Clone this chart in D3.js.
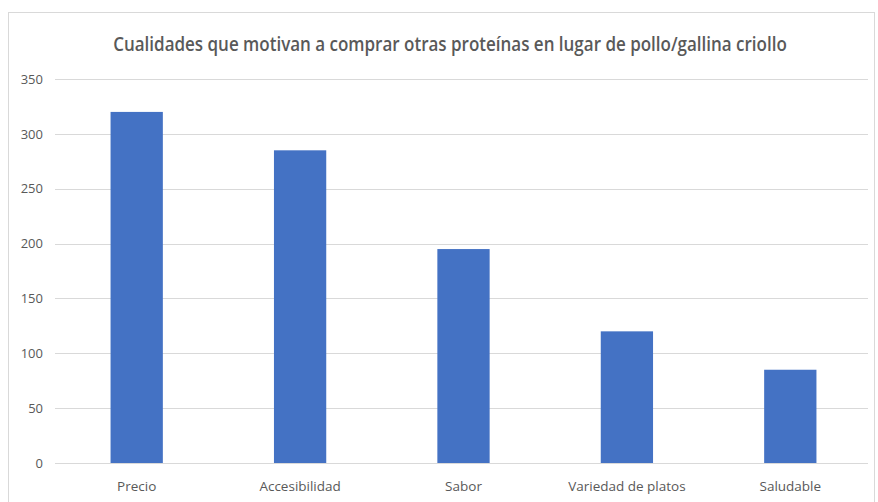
<!DOCTYPE html>
<html><head><meta charset="utf-8">
<script src="https://cdn.jsdelivr.net/npm/d3@7"></script>
<style>body{margin:0;background:#fff}svg{display:block}</style>
</head><body>
<svg id="c" width="878" height="502"></svg>
<script>
const categories = ["Precio", "Accesibilidad", "Sabor", "Variedad de platos", "Saludable"];
const values = [320, 285, 195, 120, 85];
const yTicks = [0, 50, 100, 150, 200, 250, 300, 350];
const title = "Cualidades que motivan a comprar otras proteínas en lugar de pollo/gallina criollo";

const svg = d3.select("#c");
const font = "'Open Sans', 'DejaVu Sans', sans-serif";
svg.append("rect").attr("x", 8.5).attr("y", 12.5).attr("width", 866).attr("height", 495)
  .attr("fill", "#fff").attr("stroke", "#d9d9d9");

const x = d3.scaleBand().domain(categories).range([55, 872]).paddingInner(0.68).paddingOuter(0.34);
const y = d3.scaleLinear().domain([0, 350]).range([463, 79]);

const g = svg.append("g");
g.selectAll("line.grid").data(yTicks).enter().append("line")
  .attr("x1", 55).attr("x2", 868).attr("y1", d => Math.round(y(d)) + 0.5).attr("y2", d => Math.round(y(d)) + 0.5)
  .attr("stroke", "#d9d9d9").attr("stroke-width", 1);

const yAxis = d3.axisLeft(y).tickValues(yTicks).tickSize(0).tickPadding(0);
svg.append("g").attr("transform", "translate(43,0)").call(yAxis)
  .call(s => s.select(".domain").remove())
  .call(s => s.selectAll("text").attr("fill", "#595959").attr("font-size", 13).attr("font-family", font));

g.selectAll("rect.bar").data(values).enter().append("rect")
  .attr("x", (d, i) => x(categories[i])).attr("width", x.bandwidth())
  .attr("y", d => y(d)).attr("height", d => y(0) - y(d)).attr("fill", "#4472C4");

const xAxis = d3.axisBottom(x).tickSize(0).tickPadding(0);
svg.append("g").attr("transform", "translate(0,481)").call(xAxis)
  .call(s => s.select(".domain").remove())
  .call(s => s.selectAll("text").attr("fill", "#595959").attr("font-size", 13.5).attr("font-family", font));

const tg = svg.append("g");
const tt = tg.append("text").attr("x", 0).attr("y", 0).attr("text-anchor", "middle")
  .attr("font-family", font).attr("font-size", 19.5).attr("font-weight", 600).attr("fill", "#595959")
  .text(title);
const w = tt.node().getComputedTextLength();
const sx = Math.min(1, 674 / w);
tg.attr("transform", `translate(450,51) scale(${sx},1)`);
</script>
</body></html>
